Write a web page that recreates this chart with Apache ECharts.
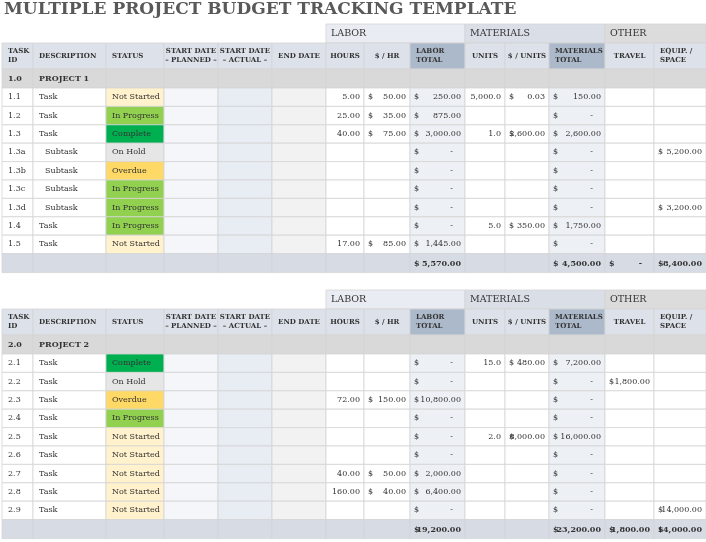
<!DOCTYPE html>
<html><head><meta charset="utf-8">
<script src="https://cdn.jsdelivr.net/npm/echarts@6/dist/echarts.min.js"></script>
<style>html,body{margin:0;padding:0;background:#fff}#main{width:706px;height:542px}</style>
</head><body><div id="main"></div>
<script>
// column layout
var colEdges=[2,33,106,164,218,272,326,364,410,465,505,549,605,654,706];
var colHeads=['TASK\nID','DESCRIPTION','STATUS','START DATE\n– PLANNED –','START DATE\n– ACTUAL –','END DATE','HOURS','$ / HR','LABOR\nTOTAL','UNITS','$ / UNITS','MATERIALS\nTOTAL','TRAVEL','EQUIP. /\nSPACE'];
var groupHeads=[['LABOR',6,9,'#e9ecf2'],['MATERIALS',9,12,'#dadee7'],['OTHER',12,14,'#dcdcdc']];
var statusColors={'Not Started':'#fff2cc','In Progress':'#92d050','Complete':'#00b050','On Hold':'#e6e6e6','Overdue':'#ffd966'};

// [id, description, status, hours, rate, units, unitPrice, travel, equip]
var project1Rows=[
 ['1.1','Task','Not Started',5,50,5000,0.03,null,null],
 ['1.2','Task','In Progress',25,35,null,null,null,null],
 ['1.3','Task','Complete',40,75,1,2600,null,null],
 ['1.3a','Subtask','On Hold',null,null,null,null,null,5200],
 ['1.3b','Subtask','Overdue',null,null,null,null,null,null],
 ['1.3c','Subtask','In Progress',null,null,null,null,null,null],
 ['1.3d','Subtask','In Progress',null,null,null,null,null,3200],
 ['1.4','Task','In Progress',null,null,5,350,null,null],
 ['1.5','Task','Not Started',17,85,null,null,null,null]
];
var project2Rows=[
 ['2.1','Task','Complete',null,null,15,480,null,null],
 ['2.2','Task','On Hold',null,null,null,null,1800,null],
 ['2.3','Task','Overdue',72,150,null,null,null,null],
 ['2.4','Task','In Progress',null,null,null,null,null,null],
 ['2.5','Task','Not Started',null,null,2,8000,null,null],
 ['2.6','Task','Not Started',null,null,null,null,null,null],
 ['2.7','Task','Not Started',40,50,null,null,null,null],
 ['2.8','Task','Not Started',160,40,null,null,null,null],
 ['2.9','Task','Not Started',null,null,null,null,null,14000]
];
var projects=[['1.0','PROJECT 1',project1Rows,24],['2.0','PROJECT 2',project2Rows,290]];

var FONT='"DejaVu Serif", "Liberation Serif", serif';
function fmt(v,d){return v.toLocaleString('en-US',{minimumFractionDigits:d,maximumFractionDigits:d});}
var els=[];
function rect(x,y,w,h,fill){els.push({type:'rect',shape:{x:x,y:y,width:w,height:h},style:{fill:fill,stroke:'#d4d4d4',lineWidth:0.8},silent:true});}
function txt(x,y,s,o){o=o||{};els.push({type:'text',x:x,y:y,silent:true,style:{text:s,font:(o.bold?'bold ':'')+(o.size||8)+'px '+FONT,fill:o.color||'#333',align:o.align||'left',verticalAlign:'middle',lineHeight:(o.size||8)+2}});}
function money(c,y,v,bold){var x0=colEdges[c],x1=colEdges[c+1];
 txt(x0+4,y,'$',{bold:bold});
 if(v)txt(x1-4,y,fmt(v,2),{align:'right',bold:bold}); else txt(x1-12,y,'-',{align:'right',bold:bold});}
var colBg={3:'#f4f6fa',4:'#e8ecf3',5:'#f2f2f2',8:'#edf0f5',11:'#edf0f5'};

els.push({type:'text',x:4,y:10,style:{text:'MULTIPLE PROJECT BUDGET TRACKING TEMPLATE',font:'bold 17px '+FONT,fill:'#595959',verticalAlign:'middle'}});

projects.forEach(function(p){
 var y=p[3];
 groupHeads.forEach(function(g){var x0=colEdges[g[1]],x1=colEdges[g[2]];rect(x0,y,x1-x0,19,g[3]);txt(x0+5,y+10,g[0],{size:9.5});});
 y+=19;
 for(var c=0;c<14;c++){var x0=colEdges[c],x1=colEdges[c+1],dark=(c==8||c==11);
  rect(x0,y,x1-x0,26,dark?'#acb9ca':'#dde2ea');
  var center=(c>=3&&c<=7)||c==9||c==10||c==12;
  txt(center?(x0+x1)/2:x0+6,y+13,colHeads[c],{bold:true,size:7,align:center?'center':'left'});}
 y+=26;
 for(c=0;c<14;c++)rect(colEdges[c],y,colEdges[c+1]-colEdges[c],19,'#d9d9d9');
 txt(colEdges[0]+6,y+10,p[0],{bold:true});txt(colEdges[1]+6,y+10,p[1],{bold:true});
 y+=19;
 var lt=0,mt=0,tt=0,et=0,rh=18.4;
 p[2].forEach(function(r){
  for(var c=0;c<14;c++){var fill=colBg[c]||'#ffffff';if(c==2)fill=statusColors[r[2]];rect(colEdges[c],y,colEdges[c+1]-colEdges[c],rh,fill);}
  var cy=y+rh/2;
  txt(colEdges[0]+6,cy,r[0]);
  txt(colEdges[1]+(r[1]=='Subtask'?12:6),cy,r[1]);
  txt(colEdges[2]+6,cy,r[2]);
  if(r[3]!=null){txt(colEdges[7]-4,cy,fmt(r[3],2),{align:'right'});money(7,cy,r[4]);}
  var lab=r[3]!=null?r[3]*r[4]:0;lt+=lab;money(8,cy,lab);
  if(r[5]!=null){txt(colEdges[10]-4,cy,fmt(r[5],1),{align:'right'});money(10,cy,r[6]);}
  var mat=r[5]!=null?r[5]*r[6]:0;mt+=mat;money(11,cy,mat);
  if(r[7]!=null){money(12,cy,r[7]);tt+=r[7];}
  if(r[8]!=null){money(13,cy,r[8]);et+=r[8];}
  y+=rh;
 });
 for(c=0;c<14;c++)rect(colEdges[c],y,colEdges[c+1]-colEdges[c],19,'#d6dbe4');
 var cy=y+10;money(8,cy,lt,true);money(11,cy,mt,true);money(12,cy,tt,true);money(13,cy,et,true);
});

var chart=echarts.init(document.getElementById('main'));
chart.setOption({animation:false,graphic:{elements:els}});
</script></body></html>
